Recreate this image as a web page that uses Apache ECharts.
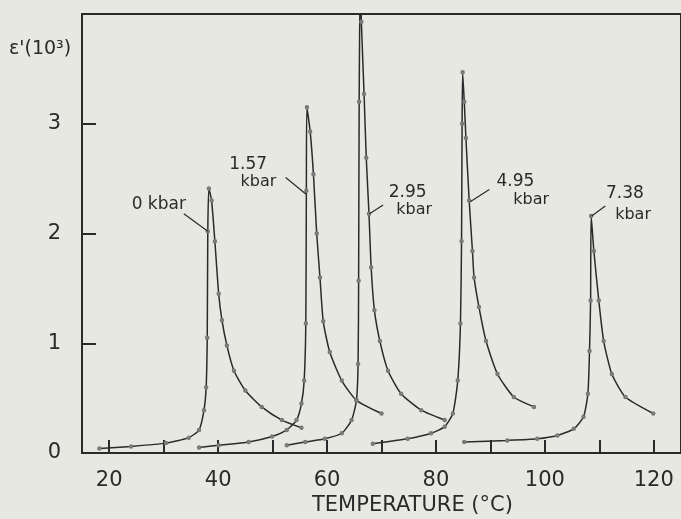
<!DOCTYPE html>
<html>
<head>
<meta charset="utf-8">
<script src="https://cdn.jsdelivr.net/npm/echarts@6/dist/echarts.min.js"></script>
<style>
  html, body { margin: 0; padding: 0; background: #e8e8e2; }
  #chart { width: 681px; height: 519px; }
</style>
</head>
<body>
<div id="chart"></div>
<script>
// 温度 (°C) 与 ε' (10^3)，五个压力下的曲线
const temp0 = [18.2, 24, 30.4, 34.6, 36.5, 37.4, 37.8, 38.0, 38.1, 38.3, 38.8, 39.4, 40.1, 40.7, 41.6, 42.9, 45.0, 48.0, 51.7, 55.3];
const eps0 = [0.04, 0.06, 0.09, 0.14, 0.21, 0.39, 0.6, 1.05, 2.02, 2.41, 2.3, 1.93, 1.45, 1.21, 0.98, 0.75, 0.57, 0.42, 0.30, 0.23];

const temp157 = [36.5, 40.1, 45.6, 49.9, 52.6, 54.4, 55.3, 55.8, 56.1, 56.2, 56.3, 56.9, 57.5, 58.1, 58.7, 59.3, 60.5, 62.7, 65.4, 70.0];
const eps157 = [0.05, 0.07, 0.10, 0.15, 0.21, 0.30, 0.45, 0.66, 1.18, 2.39, 3.15, 2.93, 2.54, 2.0, 1.6, 1.2, 0.92, 0.66, 0.48, 0.36];

const temp295 = [52.6, 56, 59.6, 62.7, 64.5, 65.4, 65.7, 65.8, 65.9, 66.1, 66.3, 66.8, 67.2, 67.7, 68.1, 68.7, 69.7, 71.2, 73.6, 77.3, 81.6];
const eps295 = [0.07, 0.1, 0.13, 0.18, 0.30, 0.48, 0.81, 1.57, 3.2, 4.4, 3.93, 3.27, 2.69, 2.18, 1.69, 1.3, 1.02, 0.75, 0.54, 0.39, 0.30];

const temp495 = [68.4, 74.8, 79.1, 81.6, 83.1, 84.0, 84.5, 84.7, 84.8, 84.9, 85.2, 85.5, 86.1, 86.7, 87.0, 87.9, 89.2, 91.3, 94.3, 98.0];
const eps495 = [0.085, 0.13, 0.18, 0.24, 0.36, 0.66, 1.18, 1.93, 3.0, 3.47, 3.2, 2.87, 2.3, 1.84, 1.6, 1.33, 1.02, 0.72, 0.51, 0.42];

const temp738 = [85.2, 93.1, 98.6, 102.3, 105.3, 107.1, 107.9, 108.2, 108.4, 108.5, 109.0, 109.9, 110.8, 112.3, 114.8, 119.9];
const eps738 = [0.10, 0.115, 0.13, 0.16, 0.22, 0.33, 0.54, 0.93, 1.39, 2.16, 1.84, 1.39, 1.02, 0.72, 0.51, 0.36];

// 坐标轴刻度
const xTicks = [20, 30, 40, 50, 60, 70, 80, 90, 100, 110, 120];
const xLabels = [20, 40, 60, 80, 100, 120];
const yLabels = [0, 1, 2, 3];

// 曲线标注：文字两行 + 引线 (数据坐标)
const notes = [
  { top: "0 kbar", bottom: "", topAt: [29.1, 2.26], bottomAt: null, line: [[33.7, 2.18], [38.1, 2.02]] },
  { top: "1.57", bottom: "kbar", topAt: [45.5, 2.63], bottomAt: [47.4, 2.47], line: [[52.4, 2.51], [56.1, 2.36]] },
  { top: "2.95", bottom: "kbar", topAt: [74.8, 2.37], bottomAt: [76.0, 2.22], line: [[70.3, 2.26], [67.8, 2.18]] },
  { top: "4.95", bottom: "kbar", topAt: [94.6, 2.47], bottomAt: [97.5, 2.31], line: [[89.8, 2.40], [86.3, 2.29]] },
  { top: "7.38", bottom: "kbar", topAt: [114.7, 2.36], bottomAt: [116.2, 2.17], line: [[111.1, 2.25], [108.6, 2.16]] }
];

const curves = [
  [temp0, eps0],
  [temp157, eps157],
  [temp295, eps295],
  [temp495, eps495],
  [temp738, eps738]
];

const fontFamily = "DejaVu Sans";
const ink = "#2a2a2a";

const chart = echarts.init(document.getElementById("chart"));

const series = curves.map(function (c, i) {
  const n = notes[i];
  const points = [{
    coord: n.topAt, value: n.top,
    symbolSize: 0,
    label: { show: true, formatter: n.top, position: "inside", color: ink, fontSize: 17, fontFamily: fontFamily }
  }];
  if (n.bottomAt) {
    points.push({
      coord: n.bottomAt, value: n.bottom,
      symbolSize: 0,
      label: { show: true, formatter: n.bottom, position: "inside", color: ink, fontSize: 16, fontFamily: fontFamily }
    });
  }
  return {
    type: "line",
    data: c[0].map(function (t, k) { return [t, c[1][k]]; }),
    smooth: 0.2,
    symbol: "emptyCircle",
    symbolSize: 2.5,
    showSymbol: true,
    clip: true,
    lineStyle: { color: ink, width: 1.5 },
    itemStyle: { color: "#777", borderWidth: 0.7 },
    animation: false,
    markLine: {
      silent: true,
      symbol: "none",
      label: { show: false },
      lineStyle: { color: ink, width: 1.2, type: "solid" },
      data: [[{ coord: n.line[0] }, { coord: n.line[1] }]],
      animation: false
    },
    markPoint: {
      silent: true,
      symbol: "circle",
      data: points,
      animation: false
    }
  };
});

const option = {
  backgroundColor: "#e8e8e2",
  animation: false,
  grid: {
    left: 82,
    top: 14,
    bottom: 66,
    right: -3,
    show: true,
    borderColor: ink,
    borderWidth: 2,
    backgroundColor: "transparent"
  },
  graphic: [
    {
      type: "text",
      left: 9,
      top: 40,
      style: { text: "ε'(10³)", fill: ink, fontSize: 19, fontFamily: fontFamily }
    },
    {
      type: "text",
      left: 312,
      top: 495,
      style: { text: "TEMPERATURE (°C)", fill: ink, fontSize: 21, fontFamily: fontFamily }
    }
  ],
  xAxis: {
    type: "value",
    min: 15,
    max: 125,
    splitLine: { show: false },
    axisLine: { lineStyle: { color: ink, width: 2 } },
    axisTick: {
      inside: true,
      length: 13,
      customValues: xTicks,
      lineStyle: { color: ink, width: 2 }
    },
    axisLabel: {
      customValues: xLabels,
      margin: 17,
      color: ink,
      fontSize: 21,
      fontFamily: fontFamily
    }
  },
  yAxis: {
    type: "value",
    min: 0,
    max: 4,
    interval: 1,
    splitLine: { show: false },
    axisLine: { lineStyle: { color: ink, width: 2 } },
    axisTick: {
      inside: true,
      length: 14,
      lineStyle: { color: ink, width: 2 }
    },
    axisLabel: {
      customValues: yLabels,
      margin: 21,
      color: ink,
      fontSize: 21,
      fontFamily: fontFamily
    }
  },
  series: series
};

chart.setOption(option);
</script>
</body>
</html>
